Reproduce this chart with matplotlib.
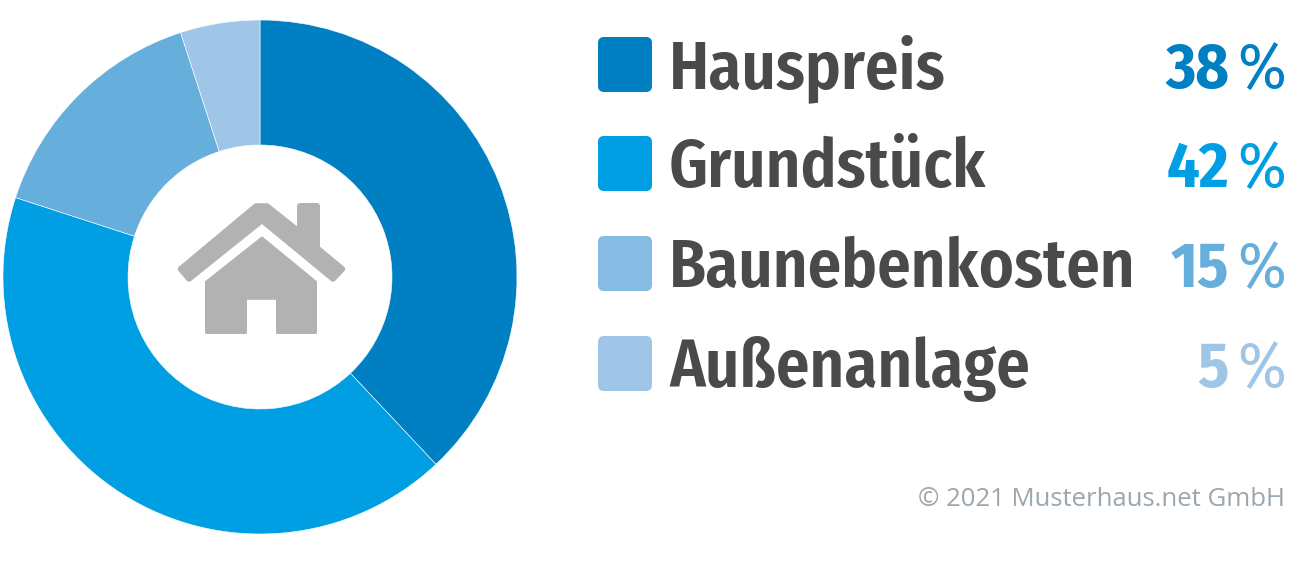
import matplotlib
matplotlib.use("Agg")
import matplotlib.pyplot as plt
from matplotlib.patches import FancyBboxPatch, PathPatch
from matplotlib.path import Path

categories = ["Hauspreis", "Grundstück", "Baunebenkosten", "Außenanlage"]
shares = [38, 42, 15, 5]
sliceColors = ["#0080c2", "#009fe3", "#66aedc", "#9fc6e7"]
swatchColors = ["#0080c2", "#009fe3", "#86bbe3", "#9fc6e7"]
numberColors = ["#0080c2", "#009fe3", "#66aedc", "#9fc6e7"]
footer = "© 2021 Musterhaus.net GmbH"

H = 579
labelFont = ["Fira Sans Condensed", "Open Sans", "DejaVu Sans"]


def polygon(points):
    pts = [(x, H - y) for x, y in points]
    codes = [Path.MOVETO] + [Path.LINETO] * (len(pts) - 1) + [Path.CLOSEPOLY]
    return Path(pts + [pts[0]], codes)


fig = plt.figure(figsize=(12.9, 5.79), dpi=100)
ax = fig.add_axes([0, 0, 1, 1])

ax.pie(shares, colors=sliceColors, startangle=90, counterclock=False,
       center=(260, H - 277), radius=257,
       wedgeprops=dict(width=125, edgecolor="white", linewidth=0.4))
ax.set_xlim(0, 1290)
ax.set_ylim(0, H)
ax.set_aspect("equal")
ax.axis("off")

# house icon
roof = [(180.5, 269), (256, 206), (267, 206), (299.8, 232), (299.8, 205.8), (317.2, 205.8),
        (317.2, 248), (342.5, 269), (333, 279), (262, 220.5), (189, 279)]
body = [(262, 238), (315.6, 282), (315.6, 332.6), (277.4, 332.6), (277.4, 298.4),
        (245.6, 298.4), (245.6, 332.6), (206.4, 332.6), (206.4, 282)]
ax.add_patch(PathPatch(polygon(roof), facecolor="#b2b2b2", edgecolor="#b2b2b2",
                       linewidth=4, joinstyle="round"))
ax.add_patch(PathPatch(polygon(body), facecolor="#b2b2b2", edgecolor="#b2b2b2",
                       linewidth=2, joinstyle="round"))

# legend rows
rowTops = [37, 136, 236, 336]
rowBase = [88, 187, 287, 387]
for i, name in enumerate(categories):
    ax.add_patch(FancyBboxPatch((601, H - rowTops[i] - 52), 48, 49,
                                boxstyle="round,pad=3,rounding_size=6",
                                facecolor=swatchColors[i], edgecolor="none"))
    ax.text(669, H - rowBase[i], name, fontsize=48, fontweight=600,
            family=labelFont, color="#4a4a4a", ha="left", va="baseline")
    ax.text(1286, H - rowBase[i], "%", fontsize=47, fontweight=400, family=labelFont,
            color=numberColors[i], ha="right", va="baseline")
    ax.text(1229, H - rowBase[i], str(shares[i]), fontsize=46, fontweight=700,
            family=labelFont, color=numberColors[i], ha="right", va="baseline")

ax.text(1285, H - 506, footer, fontsize=18.5, family="Open Sans", color="#9ba6ae",
        ha="right", va="baseline")

fig.savefig("out.png", dpi=100, facecolor="white")
